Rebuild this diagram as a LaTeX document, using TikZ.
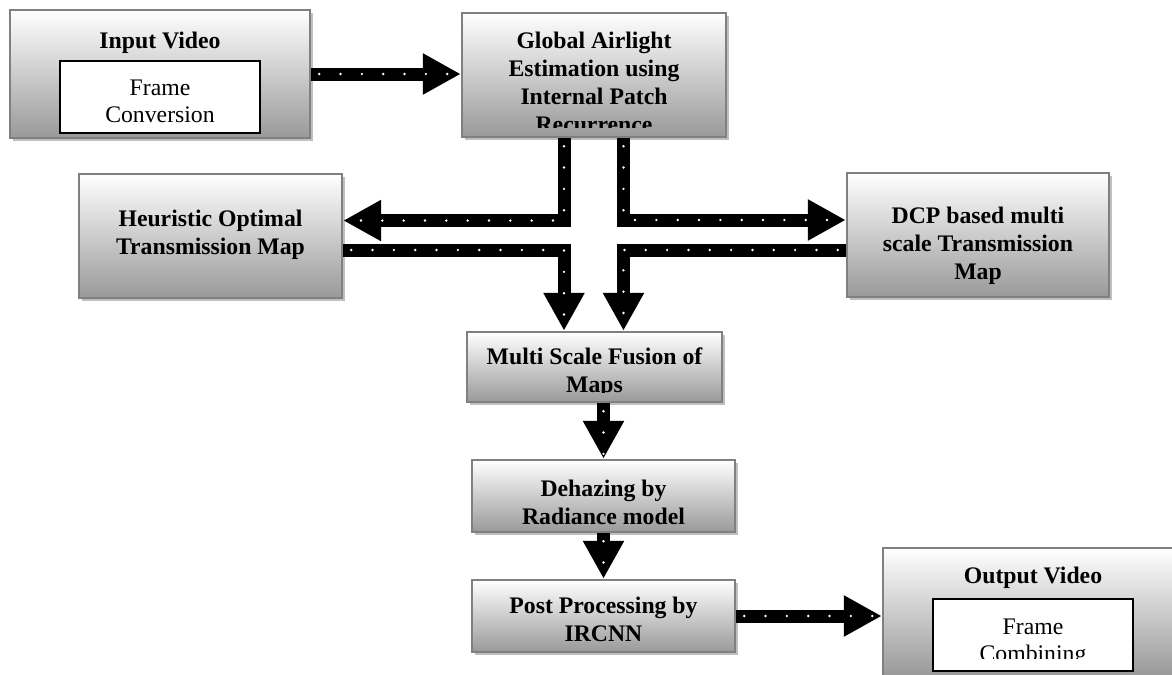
\documentclass[tikz,border=0pt]{standalone}
\usepackage{fontspec}
\setmainfont{Liberation Serif}
\usetikzlibrary{arrows.meta,positioning,shadows}

\tikzset{
  blk/.style={draw=black!50, line width=1.8pt, top color=white, bottom color=black!40,
    inner sep=0pt, drop shadow={shadow xshift=2.5pt, shadow yshift=-2.5pt, fill=black!25, opacity=1}},
  frm/.style={draw=black, line width=1.1pt, fill=white, inner sep=0pt},
  hd/.style={font=\bfseries\fontsize{17.8}{21}\selectfont, align=center, inner sep=0pt},
  rg/.style={font=\fontsize{17.8}{20}\selectfont, align=center, inner sep=0pt},
  fat/.style={draw=black, line width=9.75pt, line join=miter,
    -{Triangle[length=28.5pt,width=29pt]},
    postaction={draw=white, arrows=-, line width=2pt, line cap=round, dash pattern=on 0pt off 16pt, dash phase=-6pt}}
}

\begin{document}
\begin{tikzpicture}[x=0.75pt, y=-0.75pt]
    \useasboundingbox (0,0) rectangle (1172,675);
    \clip (0,0) rectangle (1172,675);

    % Input video with frame conversion
    \node[blk, minimum width=225pt, minimum height=96pt] (in) at (160,74) {};
    \node[hd, below=17.2pt of in.north] (intit) {Input Video};
    \node[frm, minimum width=150pt, minimum height=54pt] (conv) at (160,97) {};
    \node[rg, below=14.8pt of conv.north] (convtxt) {Frame\\Conversion};

    % Airlight estimation (text runs out of the box)
    \node[blk, minimum width=198pt, minimum height=93pt] (glob) at (594,75) {};
    \begin{scope}
        \clip ([yshift=8.4pt]glob.south west) rectangle (glob.north east);
        \node[hd, below=14.8pt of glob.north] (globtxt) {Global Airlight\\Estimation using\\Internal Patch\\Recurrence};
    \end{scope}

    % Transmission maps
    \node[blk, minimum width=197.25pt, minimum height=93pt] (heur) at (210.5,236) {};
    \node[hd, below=27.9pt of heur.north] (heurtxt) {Heuristic Optimal\\Transmission Map};

    \node[blk, minimum width=196.5pt, minimum height=93pt] (dcp) at (978,235) {};
    \node[hd, below=26.4pt of dcp.north] (dcptxt) {DCP based multi\\scale Transmission\\Map};

    % Fusion
    \node[blk, minimum width=191.25pt, minimum height=52.5pt] (multi) at (594.5,367) {};
    \begin{scope}
        \clip ([yshift=8.4pt]multi.south west) rectangle (multi.north east);
        \node[hd, below=12.9pt of multi.north] (multitxt) {Multi Scale Fusion of\\Maps};
    \end{scope}

    % Dehazing and post processing
    \node[blk, minimum width=197.25pt, minimum height=54pt] (dehaz) at (603.5,496) {};
    \node[hd, below=15.9pt of dehaz.north] (dehaztxt) {Dehazing by\\Radiance model};

    \node[blk, minimum width=197.25pt, minimum height=54pt] (post) at (603.5,616) {};
    \node[hd, below=13.7pt of post.north] (posttxt) {Post Processing by\\IRCNN};

    % Output video with frame combining
    \node[blk, minimum width=225pt, minimum height=96pt] (out) at (1033,612) {};
    \node[hd, below=14.7pt of out.north] (outtit) {Output Video};
    \node[frm, minimum width=150pt, minimum height=54pt] (comb) at (1033,635) {};
    \begin{scope}
        \clip ([yshift=9.9pt]comb.south west) rectangle (comb.north east);
        \node[rg, below=15.5pt of comb.north] (combtxt) {Frame\\Combining};
    \end{scope}

    % Block arrows
    \coordinate (lv) at ([xshift=-22.5pt]glob.south);
    \coordinate (rv) at ([xshift=22.1pt]glob.south);

    \draw[fat] (in.east) -- (in.east -| glob.west);
    \draw[fat] (lv) |- ([yshift=11.6pt]heur.east);
    \draw[fat] ([yshift=-10.5pt]heur.east) -| (lv |- multi.north);
    \draw[fat] (rv) |- ([yshift=11.25pt]dcp.west);
    \draw[fat] ([yshift=-11.25pt]dcp.west) -| (rv |- multi.north);
    \draw[fat] (dehaz.north |- multi.south) -- (dehaz.north);
    \draw[fat] (dehaz.south) -- (post.north);
    \draw[fat] (post.east) -- (post.east -| out.west);

\end{tikzpicture}
\end{document}
